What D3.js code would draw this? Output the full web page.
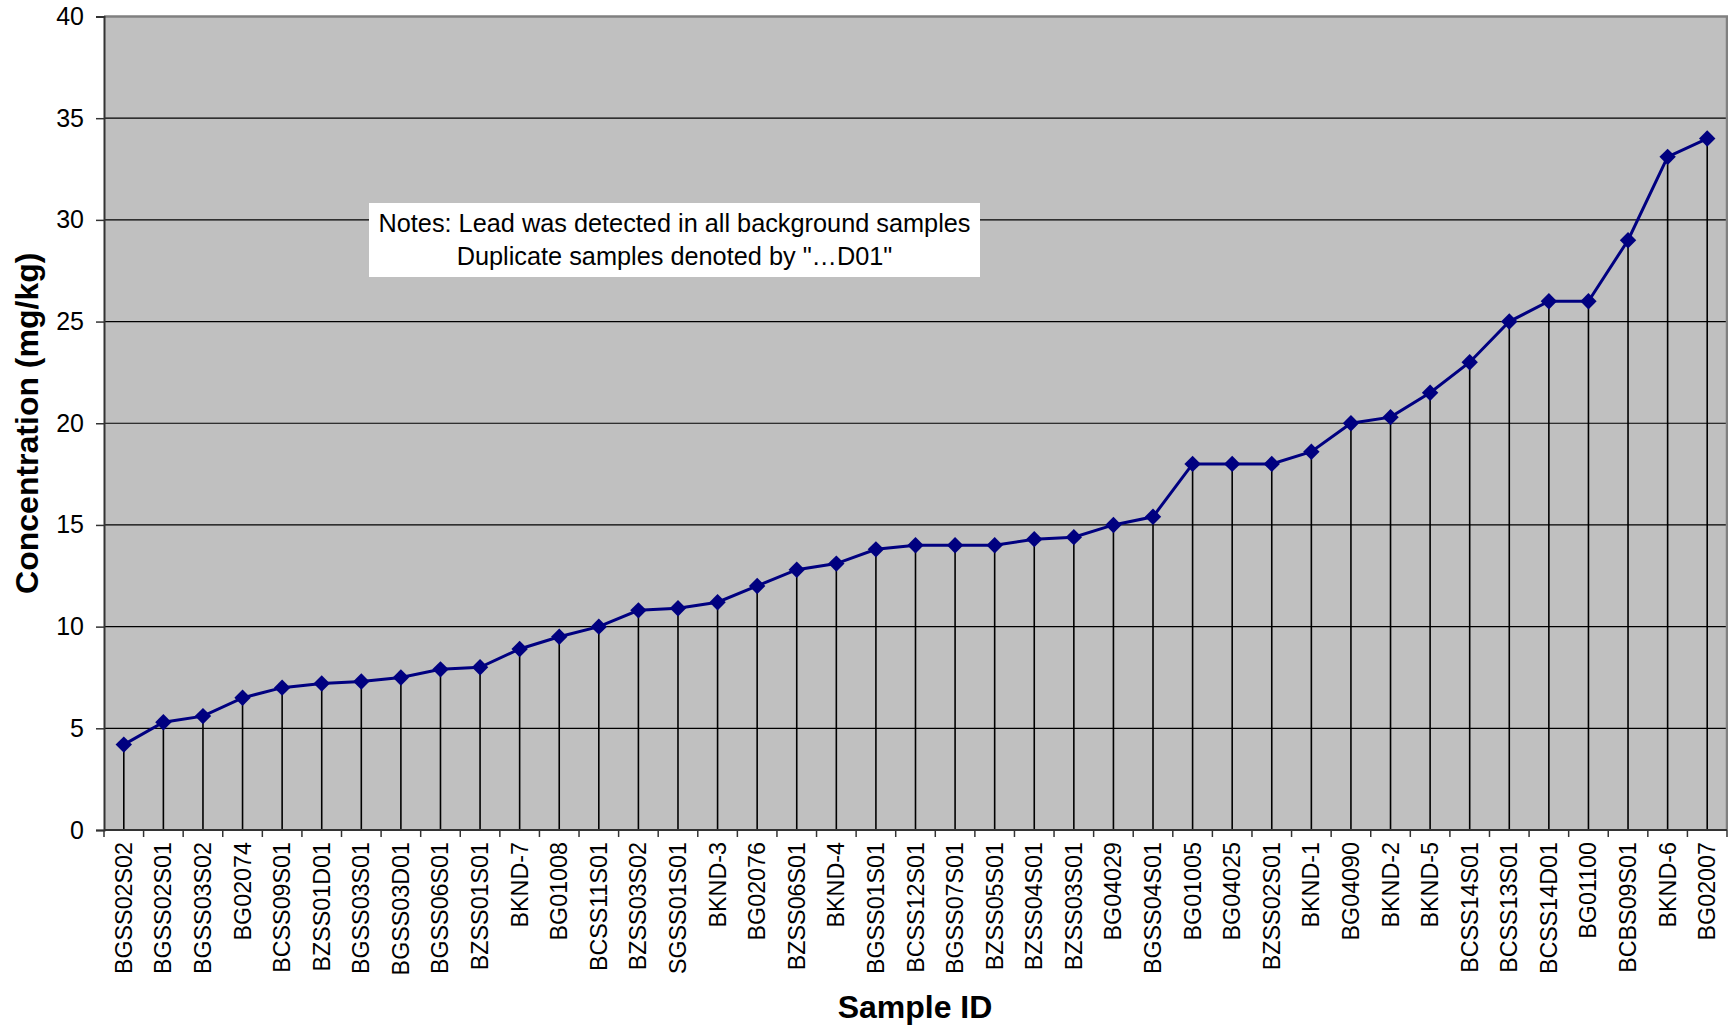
<!DOCTYPE html>
<html>
<head>
<meta charset="utf-8">
<script src="https://cdn.jsdelivr.net/npm/d3@7"></script>
<style>
  html, body { margin: 0; padding: 0; background: #ffffff; }
  svg { display: block; }
  text { font-family: "Liberation Sans", Arial, sans-serif; }
</style>
</head>
<body>
<svg id="chart" width="1728" height="1028"></svg>
<script>
const categories = ["BGSS02S02","BGSS02S01","BGSS03S02","BG02074","BCSS09S01","BZSS01D01","BGSS03S01","BGSS03D01","BGSS06S01","BZSS01S01","BKND-7","BG01008","BCSS11S01","BZSS03S02","SGSS01S01","BKND-3","BG02076","BZSS06S01","BKND-4","BGSS01S01","BCSS12S01","BGSS07S01","BZSS05S01","BZSS04S01","BZSS03S01","BG04029","BGSS04S01","BG01005","BG04025","BZSS02S01","BKND-1","BG04090","BKND-2","BKND-5","BCSS14S01","BCSS13S01","BCSS14D01","BG01100","BCBS09S01","BKND-6","BG02007"];
const values = [4.2,5.3,5.6,6.5,7.0,7.2,7.3,7.5,7.9,8.0,8.9,9.5,10.0,10.8,10.9,11.2,12.0,12.8,13.1,13.8,14.0,14.0,14.0,14.3,14.4,15.0,15.4,18.0,18.0,18.0,18.6,20.0,20.3,21.5,23.0,25.0,26.0,26.0,29.0,33.1,34.0];
const yTicks = [0,5,10,15,20,25,30,35,40];
const xTitle = "Sample ID";
const yTitle = "Concentration (mg/kg)";
const notes = ["Notes: Lead was detected in all background samples", "Duplicate samples denoted by \"\u2026D01\""];

const svg = d3.select("#chart");
const L = 104, R = 1727, T = 16.5, B = 830;

const x = d3.scaleBand().domain(categories).range([L, R]).padding(0);
const y = d3.scaleLinear().domain([0, 40]).range([B, T]);
const cx = d => x(d) + x.bandwidth() / 2;

// plot background
svg.append("rect").attr("x", L).attr("y", T).attr("width", R - L).attr("height", B - T)
  .attr("fill", "#c0c0c0");

// gridlines
svg.append("g").selectAll("line").data(yTicks.filter(v => v > 0 && v < 40)).join("line")
  .attr("x1", L).attr("x2", R).attr("y1", d => y(d)).attr("y2", d => y(d))
  .attr("stroke", "#000").attr("stroke-width", 1.2);

// plot border (top/right gray)
svg.append("path")
  .attr("d", `M${L},${T}H${R}V${B}`)
  .attr("fill", "none").attr("stroke", "#808080").attr("stroke-width", 2.5);

// drop lines
svg.append("g").selectAll("line").data(categories).join("line")
  .attr("x1", d => cx(d)).attr("x2", d => cx(d))
  .attr("y1", (d, i) => y(values[i])).attr("y2", B)
  .attr("stroke", "#000").attr("stroke-width", 1.6);

// y axis
const yAxis = svg.append("g").attr("transform", `translate(${L},0)`)
  .call(d3.axisLeft(y).tickValues(yTicks).tickSize(8).tickPadding(12).tickFormat(d3.format("d")));
yAxis.select(".domain").attr("stroke", "#333").attr("stroke-width", 2);
yAxis.selectAll(".tick line").attr("stroke", "#333").attr("stroke-width", 1.5);
yAxis.selectAll(".tick text").attr("font-size", 25).attr("fill", "#000")
  .attr("font-family", "'Liberation Sans', Arial, sans-serif");

// x axis: baseline + ticks at band boundaries
const bounds = categories.map(c => x(c)).concat([R]);
svg.append("line").attr("x1", L).attr("x2", R).attr("y1", B).attr("y2", B)
  .attr("stroke", "#333").attr("stroke-width", 2);
svg.append("g").selectAll("line").data(bounds).join("line")
  .attr("x1", d => d).attr("x2", d => d).attr("y1", B).attr("y2", B + 7)
  .attr("stroke", "#333").attr("stroke-width", 1.5);

// x labels
svg.append("g").selectAll("text").data(categories).join("text")
  .attr("transform", d => `translate(${cx(d)},${B + 12}) rotate(-90)`)
  .attr("text-anchor", "end").attr("dominant-baseline", "central")
  .attr("font-size", 23.3).attr("fill", "#000")
  .text(d => d);

// line + markers
svg.append("path").datum(values)
  .attr("d", d3.line().x((d, i) => cx(categories[i])).y(d => y(d)))
  .attr("fill", "none").attr("stroke", "#000080").attr("stroke-width", 3);
svg.append("g").selectAll("path").data(values).join("path")
  .attr("transform", (d, i) => `translate(${cx(categories[i])},${y(d)})`)
  .attr("d", "M0,-8.2L8.2,0L0,8.2L-8.2,0Z")
  .attr("fill", "#000080");

// notes box
svg.append("rect").attr("x", 369).attr("y", 203).attr("width", 611).attr("height", 74).attr("fill", "#fff");
svg.append("g").selectAll("text").data(notes).join("text")
  .attr("x", 674.5).attr("y", (d, i) => 231.5 + i * 33)
  .attr("text-anchor", "middle").attr("font-size", 25.3).attr("fill", "#000")
  .text(d => d);

// axis titles
svg.append("text").attr("x", 915).attr("y", 1018).attr("text-anchor", "middle")
  .attr("font-size", 32).attr("font-weight", "bold").text(xTitle);
svg.append("text").attr("transform", `translate(38,${(T + B) / 2}) rotate(-90)`)
  .attr("text-anchor", "middle").attr("font-size", 32).attr("font-weight", "bold").text(yTitle);
</script>
</body>
</html>
